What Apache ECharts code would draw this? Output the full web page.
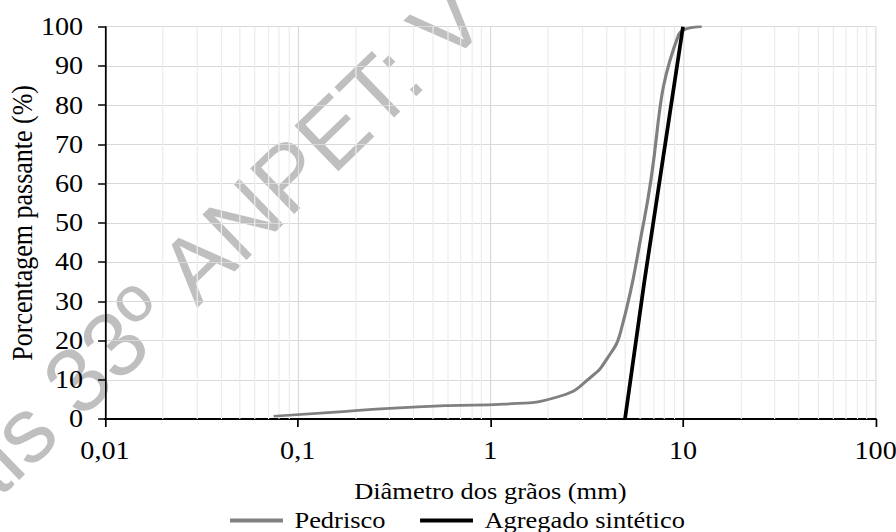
<!DOCTYPE html>
<html>
<head>
<meta charset="utf-8">
<script src="https://cdn.jsdelivr.net/npm/echarts@6.0.0/dist/echarts.min.js"></script>
<style>
html, body { margin: 0; padding: 0; overflow: hidden; background: #fff; }
/* a figura original esta esticada na horizontal */
#grafico { width: 779px; height: 532px; transform: scaleX(1.1502); transform-origin: 0 0; }
</style>
</head>
<body>
<div id="grafico"></div>
<script>
var esticar = 1.1502;

// Pedrisco - diametro (mm) e porcentagem passante (%)
var pedDiam = [0.075, 0.15, 0.3, 0.6, 1.18, 2.36, 3.35, 4.0, 4.75, 6.3, 9.5, 12.5];
var pedPass = [0.7, 1.7, 2.7, 3.4, 3.8, 6.0, 10.8, 15.1, 22.3, 51, 98, 100];

// Agregado sintetico
var sinDiam = [5, 6.3, 10];
var sinPass = [0, 35, 100];

// linhas de grade secundarias (escala log)
var decadas = [0.01, 0.1, 1, 10];
var mult = [2, 3, 4, 5, 6, 7, 8, 9];

function pares(xs, ys) {
	var out = [];
	for (var i = 0; i < xs.length; i++) out.push([xs[i], ys[i]]);
	return out;
}

var gradeMenor = [];
decadas.forEach(function (d) {
	mult.forEach(function (m) {
		gradeMenor.push({ xAxis: Number((d * m).toPrecision(6)) });
	});
});

var myChart = echarts.init(document.getElementById('grafico'), null, { renderer: 'svg' });

var marcaDagua = {
	fontSize: 92,
	fontFamily: 'Liberation Sans',
	fill: 'rgba(128,128,128,0.5)',
	textVerticalAlign: 'middle',
	verticalAlign: 'middle'
};

var option = {
	animation: false,
	textStyle: { fontFamily: 'Liberation Serif', color: '#000' },
	grid: { left: 91.3, right: 17.7, top: 26.7, bottom: 113, outerBoundsMode: 'none', containLabel: false },
	legend: {
		data: ['Pedrisco', 'Agregado sintético'],
		left: 200,
		top: 509,
		padding: 0,
		icon: 'rect',
		itemWidth: 46,
		itemHeight: 4,
		itemGap: 30,
		textStyle: { fontSize: 23, color: '#000', fontFamily: 'Liberation Serif', padding: [0, 0, 0, 5] }
	},
	xAxis: {
		type: 'log',
		logBase: 10,
		min: 0.01,
		max: 100,
		name: 'Diâmetro dos grãos (mm)',
		nameLocation: 'middle',
		nameGap: 61,
		nameMoveOverlap: false,
		nameTextStyle: { fontSize: 23, color: '#000', fontFamily: 'Liberation Serif' },
		axisLine: { lineStyle: { color: '#000', width: 2 } },
		axisTick: { show: true, length: 8, lineStyle: { color: '#000', width: 1.5 } },
		axisLabel: {
			fontSize: 24.5,
			color: '#000',
			margin: 19,
			formatter: function (v) {
				return String(Number(v.toPrecision(6))).replace('.', ',');
			}
		},
		splitLine: { show: true, lineStyle: { color: '#d9d9d9', width: 1 } }
	},
	yAxis: {
		type: 'value',
		min: 0,
		max: 100,
		interval: 10,
		name: 'Porcentagem passante (%)',
		nameLocation: 'middle',
		nameGap: 59.5,
		nameMoveOverlap: false,
		nameTextStyle: { fontSize: 26, color: '#000', fontFamily: 'Liberation Serif' },
		axisLine: { show: true, lineStyle: { color: '#000', width: 1.5 } },
		axisTick: { show: true, length: 6, lineStyle: { color: '#000', width: 1.5 } },
		axisLabel: { fontSize: 24.5, color: '#000', margin: 19 },
		splitLine: { show: true, lineStyle: { color: '#d9d9d9', width: 1 } }
	},
	series: [
		{
			name: 'grade',
			type: 'line',
			data: [],
			silent: true,
			markLine: {
				silent: true,
				symbol: ['none', 'none'],
				z: 1,
				label: { show: false },
				lineStyle: { color: '#ececec', type: 'solid', width: 1 },
				data: gradeMenor
			}
		},
		{
			name: 'Pedrisco',
			type: 'line',
			smooth: 0.5,
			symbol: 'none',
			z: 3,
			lineStyle: { color: '#808080', width: 2.75 },
			itemStyle: { color: '#808080' },
			data: pares(pedDiam, pedPass)
		},
		{
			name: 'Agregado sintético',
			type: 'line',
			symbol: 'none',
			z: 4,
			lineStyle: { color: '#000', width: 3.25 },
			itemStyle: { color: '#000' },
			data: pares(sinDiam, sinPass)
		}
	],
	graphic: [
		{
			type: 'group',
			x: 197 / esticar,
			y: 308,
			scaleX: 1 / esticar,
			z: 100,
			silent: true,
			children: [
				{
					type: 'text',
					rotation: 44 * Math.PI / 180,
					style: Object.assign({ text: 'Anais 33º ', x: 0, y: -32, textAlign: 'right', align: 'right' }, marcaDagua)
				},
				{
					type: 'text',
					rotation: 44 * Math.PI / 180,
					style: Object.assign({ text: 'ANPET: V', x: 0, y: -32, textAlign: 'left', align: 'left' }, marcaDagua)
				}
			]
		}
	]
};

myChart.setOption(option);
</script>
</body>
</html>
